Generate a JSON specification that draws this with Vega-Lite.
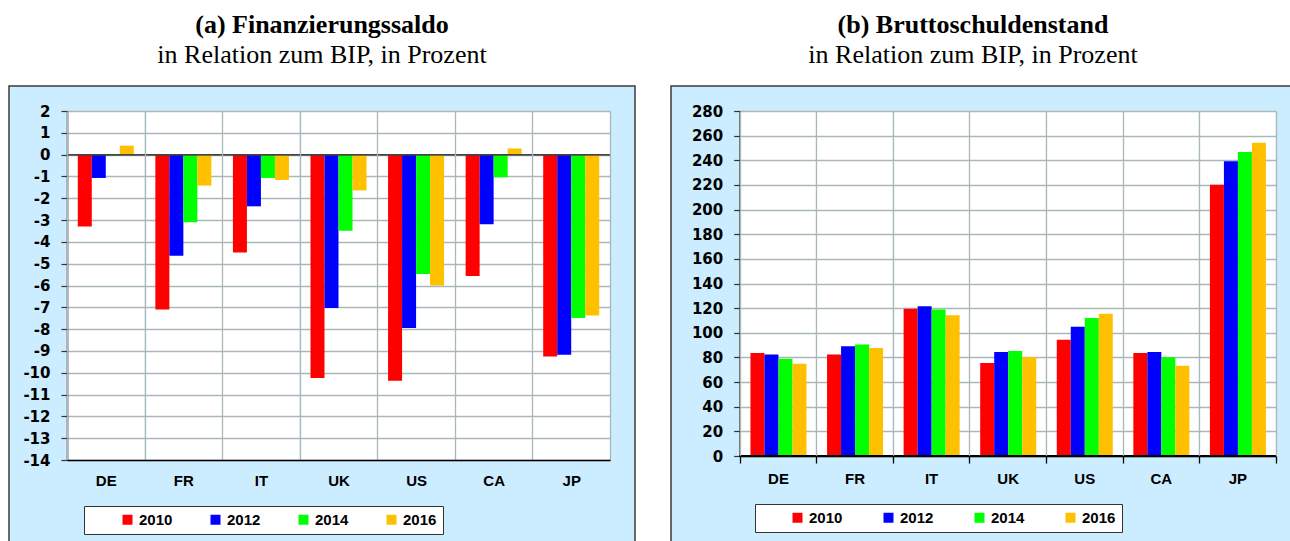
{
  "$schema": "https://vega.github.io/schema/vega-lite/v6.json",
  "background": "white",
  "padding": {"left": 8, "top": 11, "right": 0, "bottom": 0},
  "spacing": 34,
  "config": {
    "view": {"fill": "#CCECFF", "stroke": "#3A3A3A", "strokeWidth": 1.5}
  },
  "datasets": {
    "saldo": [
      {"country": "DE", "year": "2010", "value": -3.3},
      {"country": "DE", "year": "2012", "value": -1.07},
      {"country": "DE", "year": "2014", "value": -0.06},
      {"country": "DE", "year": "2016", "value": 0.41},
      {"country": "FR", "year": "2010", "value": -7.1},
      {"country": "FR", "year": "2012", "value": -4.64},
      {"country": "FR", "year": "2014", "value": -3.1},
      {"country": "FR", "year": "2016", "value": -1.42},
      {"country": "IT", "year": "2010", "value": -4.49},
      {"country": "IT", "year": "2012", "value": -2.37},
      {"country": "IT", "year": "2014", "value": -1.07},
      {"country": "IT", "year": "2016", "value": -1.16},
      {"country": "UK", "year": "2010", "value": -10.24},
      {"country": "UK", "year": "2012", "value": -7.03},
      {"country": "UK", "year": "2014", "value": -3.49},
      {"country": "UK", "year": "2016", "value": -1.64},
      {"country": "US", "year": "2010", "value": -10.37},
      {"country": "US", "year": "2012", "value": -7.95},
      {"country": "US", "year": "2014", "value": -5.47},
      {"country": "US", "year": "2016", "value": -6.0},
      {"country": "CA", "year": "2010", "value": -5.56},
      {"country": "CA", "year": "2012", "value": -3.19},
      {"country": "CA", "year": "2014", "value": -1.04},
      {"country": "CA", "year": "2016", "value": 0.28},
      {"country": "JP", "year": "2010", "value": -9.25},
      {"country": "JP", "year": "2012", "value": -9.17},
      {"country": "JP", "year": "2014", "value": -7.49},
      {"country": "JP", "year": "2016", "value": -7.37}
    ],
    "schulden": [
      {"country": "DE", "year": "2010", "value": 83.6},
      {"country": "DE", "year": "2012", "value": 82.3},
      {"country": "DE", "year": "2014", "value": 79.0},
      {"country": "DE", "year": "2016", "value": 74.9},
      {"country": "FR", "year": "2010", "value": 82.3},
      {"country": "FR", "year": "2012", "value": 89.0},
      {"country": "FR", "year": "2014", "value": 90.4},
      {"country": "FR", "year": "2016", "value": 87.7},
      {"country": "IT", "year": "2010", "value": 119.6},
      {"country": "IT", "year": "2012", "value": 121.5},
      {"country": "IT", "year": "2014", "value": 118.8},
      {"country": "IT", "year": "2016", "value": 114.2},
      {"country": "UK", "year": "2010", "value": 75.5},
      {"country": "UK", "year": "2012", "value": 84.4},
      {"country": "UK", "year": "2014", "value": 85.2},
      {"country": "UK", "year": "2016", "value": 80.4},
      {"country": "US", "year": "2010", "value": 94.4},
      {"country": "US", "year": "2012", "value": 105.0},
      {"country": "US", "year": "2014", "value": 112.0},
      {"country": "US", "year": "2016", "value": 115.5},
      {"country": "CA", "year": "2010", "value": 83.6},
      {"country": "CA", "year": "2012", "value": 84.4},
      {"country": "CA", "year": "2014", "value": 80.1},
      {"country": "CA", "year": "2016", "value": 73.3},
      {"country": "JP", "year": "2010", "value": 220.2},
      {"country": "JP", "year": "2012", "value": 239.2},
      {"country": "JP", "year": "2014", "value": 246.8},
      {"country": "JP", "year": "2016", "value": 254.3}
    ]
  },
  "resolve": {"scale": {"color": "independent"}, "legend": {"color": "independent"}},
  "hconcat": [
    {
      "width": 626,
      "height": 460,
      "data": {"name": "saldo"},
      "title": {
        "text": "(a) Finanzierungssaldo",
        "subtitle": "in Relation zum BIP, in Prozent",
        "anchor": "middle",
        "frame": "group",
        "font": "Liberation Serif",
        "fontSize": 26,
        "fontWeight": "bold",
        "color": "#000000",
        "subtitleFont": "Liberation Serif",
        "subtitleFontSize": 26,
        "subtitleColor": "#000000",
        "subtitlePadding": 4,
        "offset": 18
      },
      "resolve": {"axis": {"x": "independent"}},
      "layer": [
        {
          "mark": {"type": "bar"},
          "encoding": {
            "x": {
              "field": "country", "type": "nominal",
              "sort": ["DE", "FR", "IT", "UK", "US", "CA", "JP"],
              "scale": {"range": [58, 601], "paddingInner": 0, "paddingOuter": 0},
              "axis": {"orient": "top", "title": null, "grid": true, "gridColor": "#FFFFFF", "gridWidth": 77.6, "gridOpacity": 1, "tickBand": "center", "labels": false, "ticks": false, "domain": false}
            },
            "y": {
              "field": "value", "type": "quantitative",
              "scale": {"domain": [-14, 2], "range": [374, 25], "nice": false, "zero": false},
              "axis": {"orient": "left", "title": null, "offset": -58, "values": [-14, -13, -12, -11, -10, -9, -8, -7, -6, -5, -4, -3, -2, -1, 0, 1, 2], "labelExpr": "replace(datum.label, '\u2212', '-')", "grid": true, "gridColor": "#AAB8B8", "gridWidth": 1.3, "domain": true, "domainColor": "#000000", "domainWidth": 1.5, "ticks": true, "tickColor": "#333333", "tickSize": 6, "tickWidth": 1.2, "labelFont": "DejaVu Sans", "labelFontWeight": "bold", "labelFontSize": 15, "labelColor": "#000000", "labelPadding": 11, "labelFlush": false, "labelOverlap": false}
            },
            "xOffset": {"field": "year", "type": "nominal", "scale": {"paddingInner": 0, "paddingOuter": 0.77}},
            "color": {
              "field": "year", "type": "nominal",
              "scale": {"domain": ["2010", "2012", "2014", "2016"], "range": ["#FF0000", "#0000FF", "#00FF00", "#FFC000"]},
              "legend": {
                "orient": "none", "legendX": 75, "legendY": 420, "direction": "horizontal", "columns": 4,
                "title": "000", "titleOpacity": 0, "titleOrient": "left", "titleFont": "Liberation Sans", "titleFontSize": 15, "titleFontWeight": "bold", "titlePadding": 4,
                "symbolType": "square", "symbolSize": 100, "symbolStrokeWidth": 0, "symbolOpacity": 1,
                "labelFont": "Liberation Sans", "labelFontWeight": "bold", "labelFontSize": 15, "labelColor": "#000000", "labelOffset": 4,
                "columnPadding": 35, "padding": 6, "fillColor": "#FFFFFF", "strokeColor": "#333333", "cornerRadius": 0
              }
            }
          }
        },
        {
          "mark": {"type": "rect", "fillOpacity": 0, "stroke": "#444444", "strokeWidth": 1.3},
          "encoding": {
            "x": {
              "field": "country", "type": "nominal",
              "sort": ["DE", "FR", "IT", "UK", "US", "CA", "JP"],
              "axis": {"orient": "top", "offset": -374, "title": null, "tickBand": "extent", "grid": true, "gridColor": "#AAB8B8", "gridWidth": 1.3, "domain": true, "domainColor": "#000000", "domainWidth": 1.5, "ticks": false, "tickSize": 0, "labelFont": "Liberation Sans", "labelFontWeight": "bold", "labelFontSize": 15, "labelColor": "#000000", "labelBaseline": "middle", "labelPadding": -20.3, "labelAngle": 0}
            },
            "y": {
              "datum": 0, "type": "quantitative",
              "axis": {"orient": "left", "title": null, "offset": -58, "values": [-14, -13, -12, -11, -10, -9, -8, -7, -6, -5, -4, -3, -2, -1, 0, 1, 2], "labelExpr": "replace(datum.label, '\u2212', '-')", "grid": true, "gridColor": "#AAB8B8", "gridWidth": 1.3, "domain": true, "domainColor": "#000000", "domainWidth": 1.5, "ticks": true, "tickColor": "#333333", "tickSize": 6, "tickWidth": 1.2, "labelFont": "DejaVu Sans", "labelFontWeight": "bold", "labelFontSize": 15, "labelColor": "#000000", "labelPadding": 11, "labelFlush": false, "labelOverlap": false}
            },
            "y2": {"datum": 0}
          }
        }
      ]
    },
    {
      "width": 640,
      "height": 460,
      "data": {"name": "schulden"},
      "title": {
        "text": "(b) Bruttoschuldenstand",
        "subtitle": "in Relation zum BIP, in Prozent",
        "anchor": "middle",
        "frame": "group",
        "dx": -18,
        "font": "Liberation Serif",
        "fontSize": 26,
        "fontWeight": "bold",
        "color": "#000000",
        "subtitleFont": "Liberation Serif",
        "subtitleFontSize": 26,
        "subtitleColor": "#000000",
        "subtitlePadding": 4,
        "offset": 18
      },
      "resolve": {"axis": {"x": "independent"}},
      "layer": [
        {
          "mark": {"type": "bar"},
          "encoding": {
            "x": {
              "field": "country", "type": "nominal",
              "sort": ["DE", "FR", "IT", "UK", "US", "CA", "JP"],
              "scale": {"range": [68.7, 604.7], "paddingInner": 0, "paddingOuter": 0},
              "axis": {"orient": "top", "title": null, "grid": true, "gridColor": "#FFFFFF", "gridWidth": 76.6, "gridOpacity": 1, "tickBand": "center", "labels": false, "ticks": false, "domain": false}
            },
            "y": {
              "field": "value", "type": "quantitative",
              "scale": {"domain": [0, 280], "range": [370, 25], "nice": false, "zero": false},
              "axis": {"orient": "left", "title": null, "offset": -68.7, "values": [0, 20, 40, 60, 80, 100, 120, 140, 160, 180, 200, 220, 240, 260, 280], "grid": true, "gridColor": "#AAB8B8", "gridWidth": 1.3, "domain": true, "domainColor": "#000000", "domainWidth": 1.5, "ticks": true, "tickColor": "#333333", "tickSize": 6, "tickWidth": 1.2, "labelFont": "DejaVu Sans", "labelFontWeight": "bold", "labelFontSize": 15, "labelColor": "#000000", "labelPadding": 11, "labelFlush": false, "labelOverlap": false}
            },
            "xOffset": {"field": "year", "type": "nominal", "scale": {"paddingInner": 0, "paddingOuter": 0.77}},
            "color": {
              "field": "year", "type": "nominal",
              "scale": {"domain": ["2010", "2012", "2014", "2016"], "range": ["#FF0000", "#0000FF", "#00FF00", "#FFC000"]},
              "legend": {
                "orient": "none", "legendX": 84, "legendY": 418, "direction": "horizontal", "columns": 4,
                "title": "000", "titleOpacity": 0, "titleOrient": "left", "titleFont": "Liberation Sans", "titleFontSize": 15, "titleFontWeight": "bold", "titlePadding": 3,
                "symbolType": "square", "symbolSize": 100, "symbolStrokeWidth": 0, "symbolOpacity": 1,
                "labelFont": "Liberation Sans", "labelFontWeight": "bold", "labelFontSize": 15, "labelColor": "#000000", "labelOffset": 4,
                "columnPadding": 38, "padding": 6, "fillColor": "#FFFFFF", "strokeColor": "#333333", "cornerRadius": 0
              }
            }
          }
        },
        {
          "mark": {"type": "rect", "fillOpacity": 0, "stroke": "#000000", "strokeWidth": 1.3},
          "encoding": {
            "x": {
              "field": "country", "type": "nominal",
              "sort": ["DE", "FR", "IT", "UK", "US", "CA", "JP"],
              "axis": {"orient": "top", "offset": -370, "title": null, "tickBand": "extent", "grid": true, "gridColor": "#AAB8B8", "gridWidth": 1.3, "domain": true, "domainColor": "#000000", "domainWidth": 1.5, "ticks": true, "tickSize": -7, "tickColor": "#000000", "tickWidth": 1.3, "labelFont": "Liberation Sans", "labelFontWeight": "bold", "labelFontSize": 15, "labelColor": "#000000", "labelBaseline": "middle", "labelPadding": -15.5, "labelAngle": 0}
            },
            "y": {
              "datum": 0, "type": "quantitative",
              "axis": {"orient": "left", "title": null, "offset": -68.7, "values": [0, 20, 40, 60, 80, 100, 120, 140, 160, 180, 200, 220, 240, 260, 280], "grid": true, "gridColor": "#AAB8B8", "gridWidth": 1.3, "domain": true, "domainColor": "#000000", "domainWidth": 1.5, "ticks": true, "tickColor": "#333333", "tickSize": 6, "tickWidth": 1.2, "labelFont": "DejaVu Sans", "labelFontWeight": "bold", "labelFontSize": 15, "labelColor": "#000000", "labelPadding": 11, "labelFlush": false, "labelOverlap": false}
            },
            "y2": {"datum": 0}
          }
        }
      ]
    }
  ]
}
